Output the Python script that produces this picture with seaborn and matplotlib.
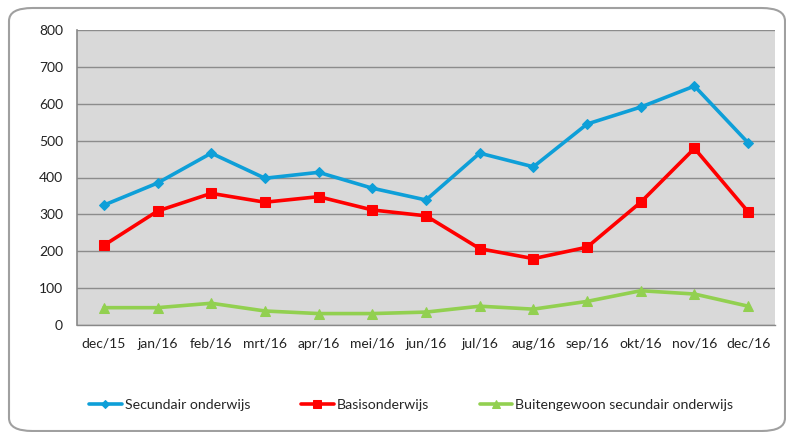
import matplotlib
matplotlib.use("Agg")
import matplotlib.pyplot as plt
import seaborn as sns
import numpy as np
from matplotlib.patches import FancyBboxPatch

months = ["dec/15", "jan/16", "feb/16", "mrt/16", "apr/16", "mei/16", "jun/16",
          "jul/16", "aug/16", "sep/16", "okt/16", "nov/16", "dec/16"]
secundair = [325, 385, 466, 398, 414, 371, 339, 466, 429, 545, 591, 648, 494]
basis = [216, 309, 357, 333, 348, 312, 296, 207, 180, 211, 333, 479, 307]
buitengewoon = [47, 47, 59, 38, 31, 31, 35, 51, 43, 64, 93, 84, 51]
yticks = [0, 100, 200, 300, 400, 500, 600, 700, 800]

sns.set_style("white")
plt.rcParams["font.family"] = ["Lato", "DejaVu Sans"]

W, H = 786, 432
fig = plt.figure(figsize=(W / 100, H / 100), dpi=100)
ax = fig.add_axes([77 / W, 1 - 325 / H, (775 - 77) / W, (325 - 30) / H])
ax.set_facecolor("#D9D9D9")

x = np.arange(len(months))
series = [
    ("Secundair onderwijs", secundair, "#0E9FD8", "D", 5),
    ("Basisonderwijs", basis, "#FF0000", "s", 7),
    ("Buitengewoon secundair onderwijs", buitengewoon, "#92D050", "^", 7),
]
for name, vals, col, mk, ms in series:
    sns.lineplot(x=x, y=vals, ax=ax, color=col, marker=mk, markersize=ms,
                 markeredgecolor=col, linewidth=2.6, label=name, zorder=3)

ax.set_xlim(-0.5, len(months) - 0.5)
ax.set_ylim(0, 800)
ax.set_yticks(yticks)
ax.set_yticklabels([str(v) for v in yticks])
ax.set_xticks(x)
ax.set_xticklabels(months)
ax.set_xticks(np.arange(-0.5, len(months), 1), minor=True)
ax.tick_params(axis="x", which="major", length=0, pad=9, labelsize=10, colors="#222222")
ax.tick_params(axis="x", which="minor", length=5, width=1, color="#888888", direction="out")
ax.tick_params(axis="y", length=5, width=1, color="#888888", direction="out", pad=5,
               labelsize=10, colors="#222222")
ax.yaxis.grid(True, color="#8C8C8C", linewidth=1)
ax.set_axisbelow(True)
for s in ["top", "right"]:
    ax.spines[s].set_visible(False)
ax.spines["left"].set_color("#888888")
ax.spines["left"].set_linewidth(1.2)
ax.spines["bottom"].set_color("#888888")
ax.spines["bottom"].set_linewidth(1)
ax.set_xlabel("")
ax.set_ylabel("")

handles, labels = ax.get_legend_handles_labels()
ax.get_legend().remove()
fig.legend(handles, labels, loc="center", bbox_to_anchor=(0.523, 1 - 405 / H), ncol=3,
           frameon=False, fontsize=10.2, handlelength=2.3, handletextpad=0.2,
           columnspacing=3.6, markerscale=0.8)

frame = FancyBboxPatch((9 / W, 1 - 431 / H), (785 - 9) / W, (431 - 8) / H,
                       boxstyle="round,pad=0,rounding_size=0.03",
                       transform=fig.transFigure, facecolor="none",
                       edgecolor="#A0A0A0", linewidth=1.5, zorder=0)
fig.patches.append(frame)

fig.savefig("out.png", dpi=100)
